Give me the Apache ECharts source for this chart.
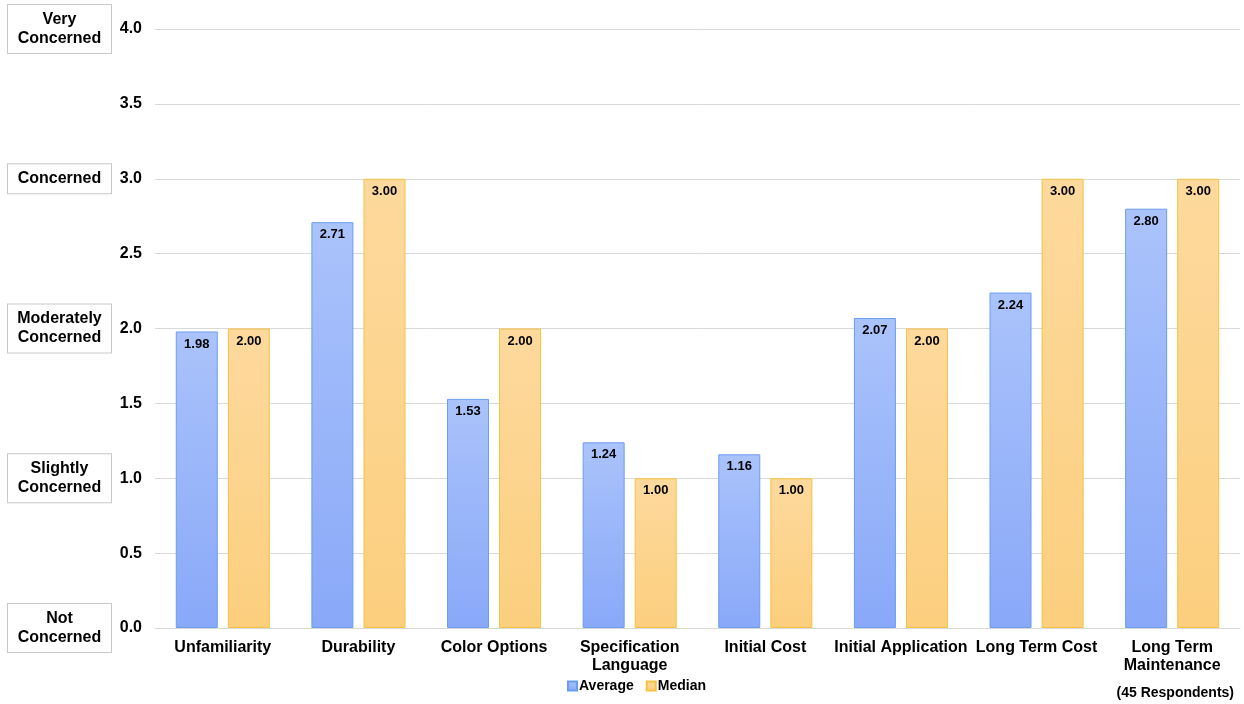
<!DOCTYPE html>
<html>
<head>
<meta charset="utf-8">
<script src="https://cdn.jsdelivr.net/npm/echarts@6/dist/echarts.min.js"></script>
<style>
  html, body { margin: 0; padding: 0; background: #fff; }
  #chart { width: 1244px; height: 704px; }
</style>
</head>
<body>
<div id="chart"></div>
<script>
// Survey concern ratings per topic
const categories = ['Unfamiliarity', 'Durability', 'Color Options', 'Specification\nLanguage',
  'Initial Cost', 'Initial Application', 'Long Term Cost', 'Long Term\nMaintenance'];
const averageValues = [1.98, 2.71, 1.53, 1.24, 1.16, 2.07, 2.24, 2.80];
const medianValues = [2.00, 3.00, 2.00, 1.00, 1.00, 2.00, 3.00, 3.00];
const concernLevels = ['Not\nConcerned', 'Slightly\nConcerned', 'Moderately\nConcerned', 'Concerned', 'Very\nConcerned'];
const seriesNames = ['Average', 'Median'];
const noteText = '(45 Respondents)';

const FONT = 'Liberation Sans, Arial, sans-serif';

function grad(top, bottom) {
  return new echarts.graphic.LinearGradient(0, 0, 0, 1, [
    { offset: 0, color: top },
    { offset: 1, color: bottom }
  ]);
}

const valueLabel = {
  show: true,
  position: 'insideTop',
  distance: 6,
  color: '#000',
  fontFamily: FONT,
  fontWeight: 'bold',
  fontSize: 13,
  formatter: p => p.value.toFixed(2)
};

const chart = echarts.init(document.getElementById('chart'), null, { renderer: 'canvas' });
chart.setOption({
  animation: false,
  backgroundColor: '#fff',
  textStyle: { fontFamily: FONT },
  grid: { left: 155, right: 4, top: 29, bottom: 76, containLabel: false },
  legend: {
    data: seriesNames,
    bottom: 6,
    left: 562,
    itemWidth: 9,
    itemHeight: 9,
    itemGap: 12,
    icon: 'rect',
    textStyle: { fontFamily: FONT, fontWeight: 'bold', fontSize: 14, color: '#000', padding: [0, 0, 0, -3] }
  },
  title: {
    text: noteText,
    right: 10,
    bottom: 4,
    padding: 0,
    textStyle: { fontFamily: FONT, fontWeight: 'bold', fontSize: 14, color: '#000' }
  },
  xAxis: {
    type: 'category',
    data: categories,
    axisTick: { show: false },
    axisLine: { lineStyle: { color: '#d9d9d9', width: 1 } },
    axisLabel: {
      interval: 0,
      margin: 11,
      color: '#000',
      fontFamily: FONT,
      fontWeight: 'bold',
      fontSize: 16,
      lineHeight: 18
    }
  },
  yAxis: [
    {
      type: 'value',
      min: 0,
      max: 4,
      interval: 0.5,
      axisLine: { show: false },
      axisTick: { show: false },
      splitLine: { lineStyle: { color: '#d9d9d9', width: 1 } },
      axisLabel: {
        margin: 13,
        color: '#000',
        fontFamily: FONT,
        fontWeight: 'bold',
        fontSize: 16,
        formatter: v => v.toFixed(1)
      }
    },
    {
      type: 'value',
      position: 'left',
      min: 0,
      max: 4,
      interval: 1,
      axisLine: { show: false },
      axisTick: { show: false },
      splitLine: { show: false },
      axisLabel: {
        margin: 44,
        formatter: v => '{b|' + concernLevels[Math.round(v)] + '}',
        backgroundColor: '#fff',
        borderColor: '#c8c8c8',
        borderWidth: 1,
        padding: [5, 4, 5, 4],
        rich: {
          b: {
            width: 95,
            align: 'center',
            color: '#000',
            fontFamily: FONT,
            fontWeight: 'bold',
            fontSize: 16,
            lineHeight: 19
          }
        }
      }
    }
  ],
  series: [
    {
      name: seriesNames[0],
      type: 'bar',
      data: averageValues,
      barWidth: 42,
      barGap: '24%',
      itemStyle: {
        color: grad('#aac3fb', '#89a8f8'),
        borderColor: '#6b9cf0',
        borderWidth: 1
      },
      label: valueLabel
    },
    {
      name: seriesNames[1],
      type: 'bar',
      data: medianValues,
      barWidth: 42,
      itemStyle: {
        color: grad('#fdd99d', '#fccf7e'),
        borderColor: '#f5c242',
        borderWidth: 1
      },
      label: valueLabel
    }
  ]
});
</script>
</body>
</html>
